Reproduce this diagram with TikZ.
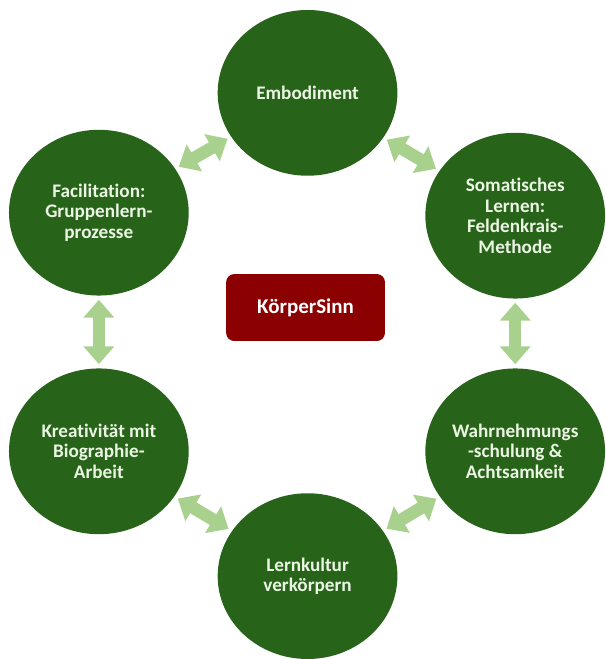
\documentclass[tikz,border=0pt]{standalone}
\usepackage{fontspec}
\setmainfont{Carlito}[Ligatures=NoCommon]
\usetikzlibrary{arrows.meta,shapes.geometric}

\definecolor{topicgreen}{RGB}{40,99,26}
\definecolor{topictext}{RGB}{236,246,228}
\definecolor{linkgreen}{RGB}{169,209,142}
\definecolor{hubred}{RGB}{139,0,0}

\tikzset{
    topic/.style={ellipse,fill=topicgreen,minimum width=180pt,minimum height=166pt,
        inner sep=0pt,align=center,text=topictext,
        font=\bfseries\fontsize{19.2}{20.6}\selectfont},
    hub/.style={rectangle,rounded corners=8pt,fill=hubred,minimum width=159pt,
        minimum height=67pt,text=white,font=\bfseries\fontsize{21}{24}\selectfont},
    link/.style={draw=linkgreen,line width=12.5pt,
        {Triangle[width=30pt,length=18pt]}-{Triangle[width=30pt,length=18pt]},
        shorten <=4pt,shorten >=4pt}
}

\begin{document}
\begin{tikzpicture}[x=1pt,y=-1pt]
    \path[fill=white] (0,0) rectangle (606,659);

    \node[hub] (koerpersinn) at (306,308) {KörperSinn};

    \node[topic] (embodiment) at (308,93) {Embodiment};
    \node[topic] (somatic) at (516,216)
        {Somatisches\\Lernen:\\Feldenkrais-\\Methode};
    \node[topic] (perception) at (516,452)
        {Wahrnehmungs\\-schulung \&\\Achtsamkeit};
    \node[topic] (culture) at (308,577) {Lernkultur\\verkörpern};
    \node[topic] (creativity) at (99,452)
        {Kreativität mit\\Biographie-\\Arbeit};
    \node[topic] (facilitation) at (99,213)
        {Facilitation:\\Gruppenlern-\\prozesse};

    % double arrows round the ring
    \draw[link] (embodiment) -- (somatic);
    \draw[link] (somatic) -- (perception);
    \draw[link] (perception) -- (culture);
    \draw[link] (culture) -- (creativity);
    \draw[link] (creativity) -- (facilitation);
    \draw[link] (facilitation) -- (embodiment);
\end{tikzpicture}
\end{document}
